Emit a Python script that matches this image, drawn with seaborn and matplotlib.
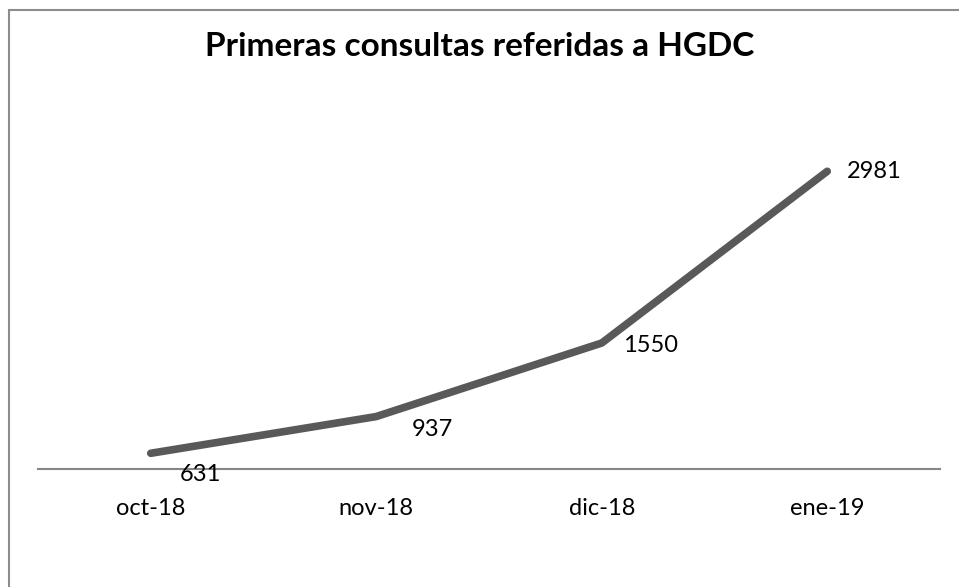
import matplotlib
matplotlib.use("Agg")
import matplotlib.pyplot as plt
import seaborn as sns
from matplotlib.patches import Rectangle

# Data
months = ["oct-18", "nov-18", "dic-18", "ene-19"]
consultas = [631, 937, 1550, 2981]
# label offsets (px) relative to each point, as placed in the original
label_dx = [50, 56, 49, 47]
label_dy = [-21, -13, -2, 0]

sns.set_theme(style="white")
plt.rcParams['font.family'] = ['Lato', 'DejaVu Sans']

W, H = 959, 587
fig = plt.figure(figsize=(W / 100, H / 100), dpi=100)

# outer chart frame (right and bottom edges fall outside the picture)
fig.patches.append(Rectangle((9 / W, -0.1), 1.1, 1.1 - 9.5 / H, transform=fig.transFigure,
                             fill=False, edgecolor="#8c8c8c", linewidth=1.5, zorder=0))

left, right = 38 / W, 940 / W
bottom, top = 1 - 469 / H, 1 - 109 / H
ax = fig.add_axes([left, bottom, right - left, top - bottom])

x = list(range(len(months)))
sns.lineplot(x=x, y=consultas, ax=ax, color="#595959", linewidth=5.5,
             solid_capstyle="round", solid_joinstyle="round")

for xi, v, dx, dy in zip(x, consultas, label_dx, label_dy):
    ax.annotate(str(v), (xi, v), xytext=(dx * 0.72, dy * 0.72), textcoords="offset points",
                ha="center", va="center", fontsize=17, color="black")

ax.set_xlim(-0.5, 3.5)
ax.set_ylim(500, 3500)
ax.set_xticks(x)
ax.set_xticklabels(months, fontsize=17, color="black")
ax.set_yticks([])
ax.tick_params(axis="x", length=0, pad=21)
for s in ["top", "left", "right"]:
    ax.spines[s].set_visible(False)
ax.spines["bottom"].set_color("#868686")
ax.spines["bottom"].set_linewidth(1.5)
ax.set_xlabel("")
ax.set_ylabel("")

fig.text(0.5, 1 - 47 / H, "Primeras consultas referidas a HGDC", ha="center", va="center",
         fontsize=24, fontweight="bold", color="black")

fig.savefig("out.png", dpi=100)
